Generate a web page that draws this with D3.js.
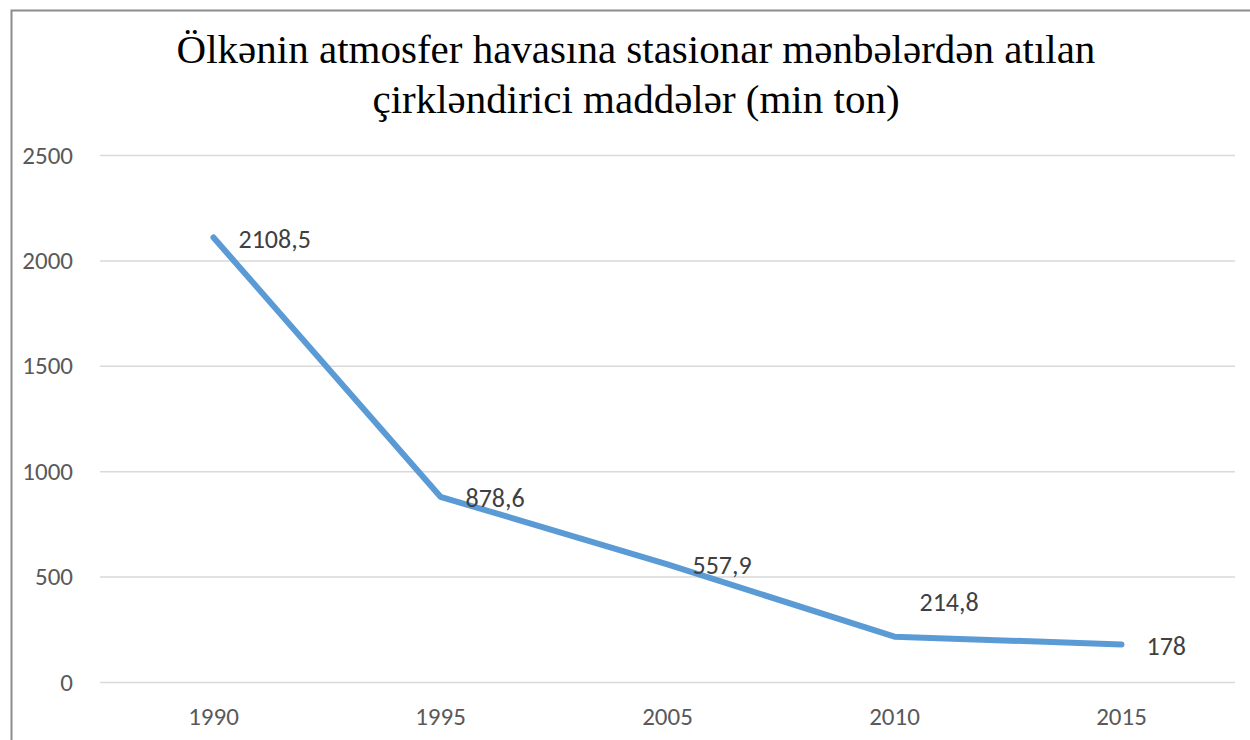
<!DOCTYPE html>
<html>
<head>
<meta charset="utf-8">
<script src="https://cdn.jsdelivr.net/npm/d3@7"></script>
<style>
  body { margin: 0; background: #fff; }
  svg { display: block; }
</style>
</head>
<body>
<svg id="chart" width="1250" height="740"></svg>
<script>
var years = ["1990", "1995", "2005", "2010", "2015"];
var values = [2108.5, 878.6, 557.9, 214.8, 178];
var valueLabels = ["2108,5", "878,6", "557,9", "214,8", "178"];
var yTicks = [0, 500, 1000, 1500, 2000, 2500];
var titleLines = ["Ölkənin atmosfer havasına stasionar mənbələrdən atılan", "çirkləndirici maddələr (min ton)"];

var LEFT = 100, RIGHT = 1235, TOP = 155, BOTTOM = 682;
var LABEL_FONT = "Carlito, Lato, 'Open Sans', sans-serif";

var svg = d3.select("#chart");

// outer frame
svg.append("rect")
    .attr("x", 11.5).attr("y", 10.5)
    .attr("width", 1250).attr("height", 740)
    .style("fill", "none").style("stroke", "#8c8c8c").style("stroke-width", 2);

var x = d3.scaleBand().domain(years).range([LEFT, RIGHT]);
var y = d3.scaleLinear().domain([0, 2500]).range([BOTTOM, TOP]);

// title
svg.append("g").selectAll("text")
    .data(titleLines)
    .enter().append("text")
    .attr("x", 636)
    .attr("y", function(d, i){ return 63 + i * 50; })
    .attr("text-anchor", "middle")
    .style("font-family", "'Liberation Serif', 'Times New Roman', serif")
    .style("font-size", "41px")
    .style("fill", "#000")
    .text(function(d){ return d; });

// gridlines + y labels
var yAxis = svg.append("g")
    .attr("transform", "translate(" + LEFT + ",0)")
    .call(d3.axisLeft(y).tickValues(yTicks).tickFormat(d3.format("d"))
        .tickSize(-(RIGHT - LEFT)).tickPadding(27));
yAxis.select(".domain").remove();
yAxis.selectAll(".tick line").style("stroke", "#d9d9d9").style("stroke-width", 1.5);
yAxis.selectAll(".tick text")
    .style("font-family", LABEL_FONT)
    .style("font-size", "25px")
    .style("fill", "#595959");

// x labels
var xAxis = svg.append("g")
    .attr("transform", "translate(0," + BOTTOM + ")")
    .call(d3.axisBottom(x).tickSize(0).tickPadding(25));
xAxis.select(".domain").remove();
xAxis.selectAll(".tick text")
    .style("font-family", LABEL_FONT)
    .style("font-size", "25px")
    .style("fill", "#595959");

// line
var pts = years.map(function(yr, i){ return {year: yr, value: values[i], label: valueLabels[i]}; });
var line = d3.line()
    .x(function(d){ return x(d.year) + x.bandwidth() / 2; })
    .y(function(d){ return y(d.value); });

svg.append("path")
    .datum(pts)
    .attr("d", line)
    .style("fill", "none")
    .style("stroke", "#5b9bd5")
    .style("stroke-width", 6)
    .style("stroke-linecap", "round")
    .style("stroke-linejoin", "round");

// data labels (right of point; 2010 one was nudged up in the original)
svg.append("g").selectAll("text")
    .data(pts)
    .enter().append("text")
    .attr("x", function(d){ return x(d.year) + x.bandwidth() / 2 + 25; })
    .attr("y", function(d){ return y(d.value) + (d.year == "2010" ? -35 : 1); })
    .attr("dy", "0.35em")
    .style("font-family", LABEL_FONT)
    .style("font-size", "26px")
    .style("fill", "#404040")
    .text(function(d){ return d.label; });
</script>
</body>
</html>
